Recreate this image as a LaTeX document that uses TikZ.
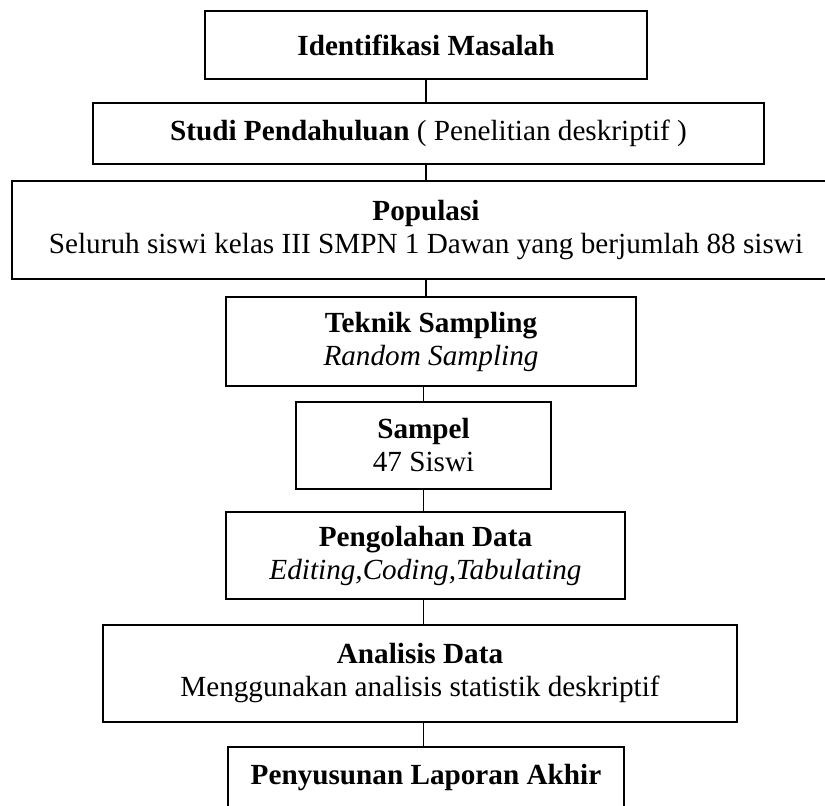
\documentclass[tikz,border=0pt]{standalone}
\usepackage{fontspec}
\setmainfont{Liberation Serif}
\begin{document}
\begin{tikzpicture}[x=0.5pt,y=-0.5pt,
  box/.style={draw=black,line width=0.8pt,inner sep=0pt,outer sep=0pt,align=center,
    font=\fontsize{14.6}{16.5}\selectfont},
  link/.style={draw=black,line width=0.8pt}]
\useasboundingbox (0,0) rectangle (825,806);
\node[box,minimum width=221pt,minimum height=34pt] (B1) at (426,45) {\textbf{Identifikasi Masalah}};
\node[box,minimum width=335.5pt,minimum height=30.5pt] (B2) at (428.5,133.5) {\textbf{Studi Pendahuluan} ( Penelitian deskriptif )};
\node[box,minimum width=414pt,minimum height=49pt] (B3) at (426,230) {\textbf{Populasi}\\Seluruh siswi kelas III SMPN 1 Dawan yang berjumlah 88 siswi};
\node[box,minimum width=205pt,minimum height=44.5pt] (B4) at (431,341.5) {\textbf{Teknik Sampling}\\\textit{Random Sampling}};
\node[box,minimum width=127.5pt,minimum height=43.5pt] (B5) at (423.5,445.5) {\textbf{Sampel}\\47 Siswi};
\node[box,minimum width=199.5pt,minimum height=43.5pt] (B6) at (425.5,555.5) {\textbf{Pengolahan Data}\\\textit{Editing,Coding,Tabulating}};
\node[box,minimum width=317pt,minimum height=48.5pt] (B7) at (420,673.5) {\textbf{Analisis Data}\\Menggunakan analisis statistik deskriptif};
\node[box,minimum width=198pt,minimum height=31pt] (B8) at (426,778) {\textbf{Penyusunan Laporan Akhir}};
\draw[link] (B1.south) -- (B1.south |- B2.north);
\draw[link] (B3.north |- B2.south) -- (B3.north);
\draw[link] (B3.south) -- (B3.south |- B4.north);
\draw[link] (B5.north |- B4.south) -- (B5.north);
\draw[link] (B5.south) -- (B5.south |- B6.north);
\draw[link] (B5.south |- B6.south) -- (B5.south |- B7.north);
\draw[link] (B5.south |- B7.south) -- (B5.south |- B8.north);
\end{tikzpicture}
\end{document}
